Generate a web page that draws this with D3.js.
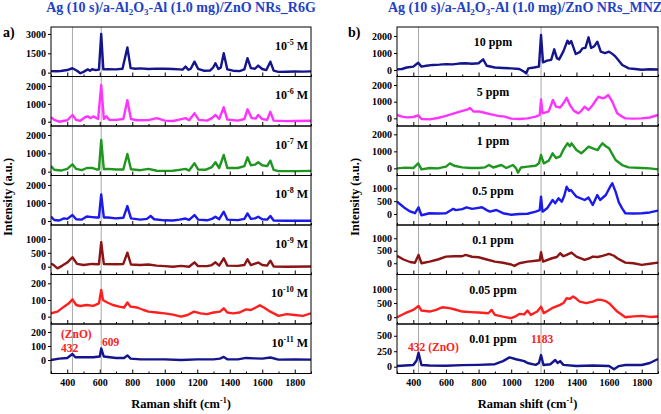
<!DOCTYPE html>
<html><head><meta charset="utf-8">
<script src="https://cdn.jsdelivr.net/npm/d3@7"></script>
<style>
body{margin:0;background:#fff;}
svg{display:block;font-family:"Liberation Serif","Times New Roman",serif;font-weight:bold;}
</style></head>
<body>
<svg id="c" width="661" height="414"></svg>
<script>
// ---------- DATA ----------
const xTickLabels = [400,600,800,1000,1200,1400,1600,1800];
const xMinorTicks = [300,500,700,900,1100,1300,1500,1700,1900];

// R6G spectra [Raman shift, intensity]
const r6g_1e5 = [[300,120],[330,110],[360,130],[400,200],[432,340],[460,150],[481,-50],[500,60],[526,250],[540,150],[553,260],[575,200],[595,230],[609,3000],[622,250],[650,260],[700,250],[740,300],[770,1950],[790,350],[820,300],[850,330],[900,280],[950,310],[1000,300],[1050,280],[1090,250],[1110,230],[1128,465],[1145,220],[1160,300],[1183,853],[1205,300],[1240,150],[1280,170],[1298,400],[1312,730],[1330,280],[1345,400],[1363,1500],[1385,250],[1420,150],[1460,120],[1490,250],[1509,1120],[1530,350],[1555,300],[1575,550],[1600,280],[1625,200],[1650,850],[1670,150],[1700,60],[1750,70],[1800,90],[1850,80],[1900,100]];
const r6g_1e6 = [[300,250],[320,100],[350,0],[400,80],[432,375],[455,100],[480,50],[510,250],[526,300],[545,200],[560,300],[590,150],[609,2050],[625,150],[640,300],[660,100],[700,100],[745,150],[770,1200],[792,150],[830,80],[900,90],[950,200],[1000,60],[1050,40],[1090,120],[1128,200],[1150,80],[1183,470],[1210,100],[1260,60],[1290,200],[1312,375],[1335,150],[1363,806],[1385,120],[1450,60],[1490,150],[1509,694],[1535,200],[1560,180],[1575,375],[1600,150],[1630,100],[1650,555],[1670,60],[1750,30],[1800,40],[1900,50]];
const r6g_1e7 = [[300,300],[320,100],[360,60],[400,150],[432,400],[455,150],[490,80],[520,200],[553,200],[580,120],[595,120],[609,1727],[625,130],[650,150],[700,120],[745,120],[770,965],[792,130],[850,80],[900,150],[950,50],[1000,40],[1050,50],[1090,100],[1128,150],[1150,60],[1183,457],[1205,120],[1250,100],[1290,250],[1312,511],[1335,200],[1363,910],[1385,200],[1450,200],[1490,300],[1509,784],[1530,350],[1555,380],[1575,511],[1600,350],[1630,300],[1650,600],[1670,100],[1700,30],[1800,30],[1900,40]];
const r6g_1e8 = [[300,250],[320,60],[350,30],[380,150],[400,120],[432,333],[455,100],[490,80],[520,250],[553,220],[580,200],[595,200],[609,1481],[625,200],[650,200],[700,150],[745,180],[770,833],[792,150],[850,80],[890,120],[913,280],[935,100],[1000,40],[1050,30],[1090,80],[1128,140],[1150,60],[1183,333],[1205,80],[1260,40],[1290,120],[1312,241],[1335,100],[1363,518],[1385,80],[1450,50],[1490,120],[1509,425],[1530,120],[1555,150],[1575,241],[1600,100],[1630,80],[1650,280],[1670,30],[1750,20],[1900,20]];
const r6g_1e9 = [[300,120],[320,40],[340,-60],[370,40],[400,150],[432,340],[460,100],[500,60],[553,100],[595,90],[609,880],[625,100],[700,90],[745,100],[770,505],[792,80],[850,60],[900,80],[950,40],[1000,20],[1050,0],[1100,30],[1150,0],[1183,158],[1205,20],[1260,20],[1290,60],[1312,158],[1335,40],[1363,303],[1385,40],[1450,30],[1490,60],[1509,267],[1530,60],[1575,150],[1600,60],[1630,40],[1650,216],[1670,10],[1750,0],[1900,10]];
const r6g_1e10 = [[300,20],[340,30],[380,60],[410,80],[432,104],[455,70],[480,64],[520,70],[560,65],[595,80],[609,160],[620,100],[640,88],[680,70],[720,60],[750,55],[770,85],[790,60],[830,55],[870,40],[900,30],[950,25],[1000,20],[1050,12],[1100,0],[1140,10],[1180,30],[1220,20],[1260,15],[1300,25],[1340,30],[1363,50],[1385,25],[1420,20],[1460,25],[1500,44],[1530,40],[1560,55],[1585,68],[1610,55],[1650,30],[1700,5],[1750,15],[1800,10],[1850,5],[1900,20]];
const r6g_1e11 = [[300,0],[350,10],[400,15],[432,43],[450,20],[500,20],[560,20],[600,25],[609,83],[625,25],[700,15],[750,15],[770,33],[790,10],[850,5],[900,5],[1000,5],[1100,0],[1200,5],[1300,5],[1340,10],[1363,22],[1385,5],[1450,5],[1500,15],[1550,12],[1600,10],[1650,18],[1700,3],[1800,5],[1900,3]];

// MNZ spectra
const mnz_10 = [[300,40],[330,60],[360,150],[400,200],[430,430],[450,200],[480,250],[520,300],[560,320],[600,350],[640,330],[680,380],[720,400],[760,370],[800,400],[828,627],[850,250],[900,150],[950,120],[1000,100],[1050,60],[1080,-100],[1092,-200],[1105,100],[1140,150],[1170,200],[1183,2060],[1195,450],[1220,550],[1245,600],[1264,1216],[1280,700],[1294,627],[1320,1100],[1345,1725],[1355,1550],[1368,1700],[1396,941],[1420,1050],[1437,1275],[1455,1300],[1474,1922],[1490,1300],[1510,1400],[1528,1667],[1549,1078],[1575,1000],[1600,1078],[1620,950],[1640,784],[1660,550],[1681,294],[1721,100],[1760,60],[1800,20],[1850,50],[1900,30]];
const mnz_5 = [[300,200],[330,100],[360,60],[400,80],[430,180],[450,-40],[500,-60],[550,20],[600,150],[650,300],[700,450],[730,520],[747,620],[770,400],[800,420],[830,350],[870,250],[920,150],[960,100],[1000,-20],[1050,-40],[1100,0],[1150,100],[1175,200],[1183,1140],[1192,300],[1230,420],[1256,1098],[1275,700],[1300,650],[1320,900],[1340,1236],[1360,800],[1385,450],[1412,300],[1430,450],[1450,700],[1474,500],[1500,800],[1520,1100],[1535,1296],[1560,1200],[1575,1250],[1595,1398],[1620,1000],[1650,300],[1680,100],[1700,0],[1750,-20],[1800,0],[1850,50],[1900,200]];
const mnz_1 = [[300,0],[350,40],[400,20],[430,294],[450,-60],[500,20],[550,0],[600,100],[625,294],[650,150],[700,60],[750,20],[800,20],[840,60],[864,196],[890,50],[940,196],[970,20],[1011,196],[1030,0],[1042,-255],[1060,50],[1100,100],[1150,150],[1170,300],[1183,784],[1200,294],[1230,450],[1254,882],[1275,600],[1300,700],[1320,1100],[1345,1470],[1360,1300],[1370,1470],[1400,1078],[1430,882],[1455,1100],[1474,1274],[1500,1176],[1530,1078],[1545,1300],[1560,1470],[1580,1300],[1600,1176],[1640,490],[1680,196],[1720,60],[1800,20],[1850,0],[1900,-60]];
const mnz_05 = [[300,480],[325,350],[350,220],[380,100],[410,30],[432,260],[450,-50],[500,27],[550,20],[600,30],[645,200],[660,150],[700,190],[727,260],[760,200],[790,230],[821,260],[850,150],[870,90],[909,155],[950,30],[1000,-30],[1050,0],[1100,10],[1150,90],[1175,150],[1183,673],[1192,90],[1220,220],[1254,545],[1270,420],[1290,610],[1310,480],[1325,700],[1340,1062],[1355,900],[1366,935],[1400,675],[1450,545],[1474,637],[1500,350],[1528,740],[1545,545],[1580,740],[1610,1100],[1620,1195],[1640,870],[1660,450],[1680,220],[1700,27],[1750,20],[1800,27],[1850,60],[1900,130]];
const mnz_01 = [[300,293],[340,150],[380,50],[410,20],[432,333],[450,0],[500,67],[550,150],[600,267],[650,280],[700,280],[720,333],[760,260],[800,240],[850,150],[900,67],[950,20],[1000,-50],[1020,-107],[1050,0],[1100,67],[1150,100],[1175,120],[1183,440],[1195,67],[1250,200],[1280,250],[1300,400],[1320,280],[1340,333],[1370,427],[1400,267],[1450,133],[1480,200],[1500,267],[1530,250],[1560,293],[1600,373],[1630,300],[1650,200],[1700,27],[1750,0],[1800,-67],[1850,-20],[1900,27]];
const mnz_005 = [[300,0],[350,141],[400,258],[432,399],[450,235],[500,200],[540,260],[580,353],[620,320],[650,282],[700,200],[750,180],[800,165],[860,140],[880,258],[900,82],[950,20],[1000,-35],[1030,40],[1050,118],[1080,100],[1100,235],[1120,82],[1160,200],[1183,375],[1200,141],[1250,318],[1300,436],[1320,500],[1340,671],[1360,650],[1380,730],[1400,650],[1420,553],[1460,495],[1500,553],[1530,620],[1550,612],[1575,580],[1600,495],[1650,200],[1700,0],[1750,30],[1800,47],[1850,10],[1900,24]];
const mnz_001 = [[300,11],[350,20],[400,27],[420,100],[432,226],[450,27],[500,20],[600,15],[700,25],[800,30],[900,40],[950,90],[990,150],[1030,120],[1080,90],[1100,60],[1150,30],[1170,60],[1183,188],[1198,27],[1240,40],[1270,108],[1285,60],[1300,90],[1320,30],[1400,11],[1500,20],[1600,11],[1630,-40],[1660,10],[1700,27],[1800,27],[1850,60],[1900,124]];

const seriesColors = ["#14148c","#ff33ff","#1f961f","#1a1aee","#8b1414","#ff1f1f","#14148c"];
const r6gLabels = ["-5","-6","-7","-8","-9","-10","-11"];
const mnzLabels = ["10 ppm","5 ppm","1 ppm","0.5 ppm","0.1 ppm","0.05 ppm","0.01 ppm"];
const r6gYTicks = [[0,1500,3000],[0,1000,2000],[0,1000,2000],[0,1000,2000],[0,500,1000],[0,100,200],[0,100,200]];
const mnzYTicks = [[0,1000,2000],[0,1000,2000],[0,1000,2000],[0,500,1000],[0,500,1000],[0,500,1000],[0,250,500]];
const r6gYDomains = [[-300,3540],[-240,2530],[-210,2490],[-220,2530],[-280,1500],[-44,253],[-96,257]];
const mnzYDomains = [[-380,2530],[-460,2510],[-420,2490],[-430,1500],[-450,1530],[-240,1510],[-110,690]];
const r6gMarkers = [432,609];
const mnzMarkers = [432,1183];

// ---------- LAYOUT ----------
const svg = d3.select("#c");
const top0 = 27, panelH = 49.5, nP = 7;
const bottom = top0 + panelH*nP;

function drawSide(opts){
  const x = d3.scaleLinear().domain([300,1900]).range(opts.xr);
  const g = svg.append("g");
  g.selectAll("line.mk").data(opts.markers).enter().append("line")
    .attr("x1",d=>x(d)).attr("x2",d=>x(d)).attr("y1",top0).attr("y2",bottom)
    .attr("stroke","#a8a8a8").attr("stroke-width",1);
  opts.data.forEach((ser,i)=>{
    const t = top0 + i*panelH, b = t + panelH;
    const y = d3.scaleLinear().domain(opts.yDomains[i]).range([b,t]);
    const pg = g.append("g");
    const clipId = opts.id+"clip"+i;
    pg.append("clipPath").attr("id",clipId).append("rect")
      .attr("x",opts.xr[0]).attr("y",t).attr("width",opts.xr[1]-opts.xr[0]).attr("height",panelH);
    const line = d3.line().x(d=>x(d[0])).y(d=>y(d[1]));
    pg.append("path").datum(ser).attr("d",line).attr("fill","none")
      .attr("stroke",seriesColors[i]).attr("stroke-width",2.4).attr("stroke-linejoin","round")
      .attr("clip-path",`url(#${clipId})`);
    pg.append("rect").attr("x",opts.xr[0]).attr("y",t).attr("width",opts.xr[1]-opts.xr[0]).attr("height",panelH)
      .attr("fill","none").attr("stroke","#000").attr("stroke-width",1);
    const ya = pg.append("g").attr("transform",`translate(${opts.xr[0]},0)`)
      .call(d3.axisLeft(y).tickValues(opts.yTicks[i]).tickSize(3).tickPadding(2).tickFormat(d3.format("d")));
    ya.select(".domain").remove();
    ya.selectAll("text").attr("font-size",10).attr("font-weight","bold").attr("font-family","Liberation Serif").attr("fill","#000");
    const xa = pg.append("g").attr("transform",`translate(0,${b})`)
      .call(d3.axisBottom(x).tickValues(xTickLabels).tickSize(-4).tickPadding(5).tickFormat(i===nP-1?d3.format("d"):""));
    xa.select(".domain").remove();
    xa.selectAll("text").attr("font-size",10).attr("font-weight","bold").attr("font-family","Liberation Serif").attr("fill","#000");
    const xm = pg.append("g").attr("transform",`translate(0,${b})`)
      .call(d3.axisBottom(x).tickValues(xMinorTicks).tickSize(-2).tickFormat(""));
    xm.select(".domain").remove();
    opts.label(pg,i,t);
  });
  const xt = svg.append("text").attr("x",(opts.xr[0]+opts.xr[1])/2).attr("y",408)
    .attr("text-anchor","middle").attr("font-size",12.5);
  xt.append("tspan").text("Raman shift (cm");
  xt.append("tspan").attr("font-size",8).attr("dy",-5).text("-1");
  xt.append("tspan").attr("dy",5).text(")");
  svg.append("text").attr("transform",`translate(${opts.yTitleX},197) rotate(-90)`)
    .attr("text-anchor","middle").attr("font-size",12.5).text("Intensity (a.u.)");
  const tt = svg.append("text").attr("x",opts.titleX).attr("y",12).attr("text-anchor","middle")
    .attr("font-size",14).attr("fill","#2342c4");
  tt.append("tspan").text("Ag (10 s)/a-Al");
  tt.append("tspan").attr("font-size",9).attr("dy",3).text("2");
  tt.append("tspan").attr("dy",-3).text("O");
  tt.append("tspan").attr("font-size",9).attr("dy",3).text("3");
  tt.append("tspan").attr("dy",-3).text("-Al (1.0 mg)/ZnO NRs_"+opts.analyte);
  svg.append("text").attr("x",opts.letterX).attr("y",37).attr("font-size",14).text(opts.letter);
}

drawSide({
  id:"L", xr:[51,311], data:[r6g_1e5,r6g_1e6,r6g_1e7,r6g_1e8,r6g_1e9,r6g_1e10,r6g_1e11],
  yDomains:r6gYDomains, yTicks:r6gYTicks, markers:r6gMarkers, yTitleX:12, titleX:181,
  analyte:"R6G", letter:"a)", letterX:3,
  label:(pg,i,t)=>{
    const tx = pg.append("text").attr("x",308).attr("y",t+22.5).attr("text-anchor","end").attr("font-size",12);
    tx.append("tspan").text("10");
    tx.append("tspan").attr("font-size",8).attr("dy",-5).text(r6gLabels[i]);
    tx.append("tspan").attr("dy",5).text(" M");
  }
});
drawSide({
  id:"R", xr:[397,658], data:[mnz_10,mnz_5,mnz_1,mnz_05,mnz_01,mnz_005,mnz_001],
  yDomains:mnzYDomains, yTicks:mnzYTicks, markers:mnzMarkers, yTitleX:359, titleX:525,
  analyte:"MNZ", letter:"b)", letterX:348,
  label:(pg,i,t)=>{
    pg.append("text").attr("x",493).attr("y",t+19).attr("text-anchor","middle").attr("font-size",12).text(mnzLabels[i]);
  }
});

const red = "#ff2020";
const ann = [
  {x:61,y:338,t:"(ZnO)",a:"start"},{x:61,y:352,t:"432",a:"start"},{x:102,y:346,t:"609",a:"start"},
  {x:408,y:351,t:"432 (ZnO)",a:"start"},{x:531,y:343,t:"1183",a:"start"}
];
svg.selectAll("text.ann").data(ann).enter().append("text").attr("class","ann")
  .attr("x",d=>d.x).attr("y",d=>d.y).attr("text-anchor",d=>d.a).attr("font-size",11.5)
  .attr("fill",red).text(d=>d.t);
</script>
</body></html>
